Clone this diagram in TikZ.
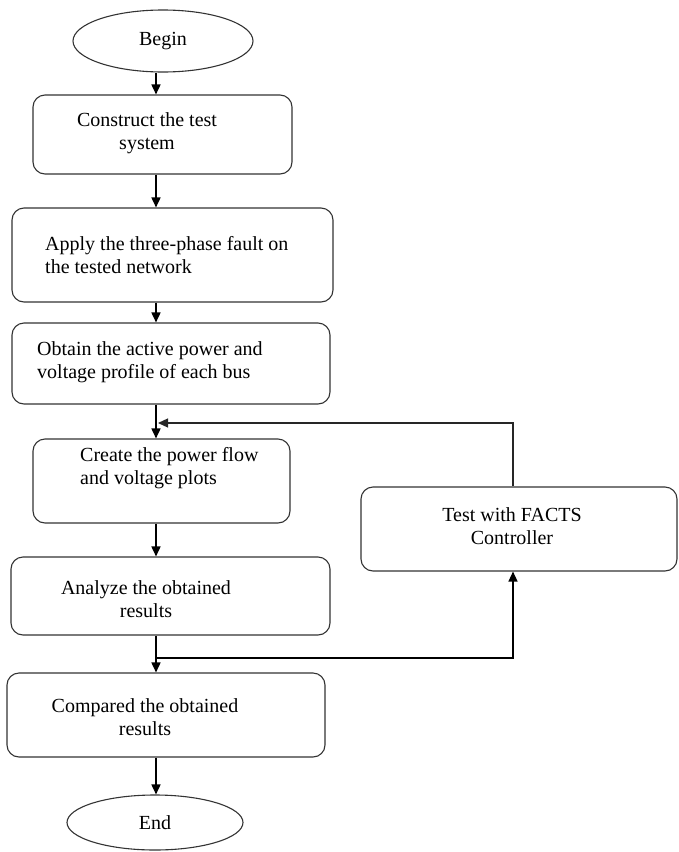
\documentclass[tikz,border=0pt]{standalone}
\usepackage{fontspec}
\setmainfont{Liberation Serif}
\usetikzlibrary{arrows.meta,shapes.geometric}

\tikzset{
  stepbox/.style={draw=black!80, line width=1.1pt, rounded corners=12pt, fill=white, inner sep=0pt},
  term/.style={ellipse, draw=black!80, line width=1.1pt, inner sep=0pt, font=\fontsize{20}{23}\selectfont},
  label/.style={inner sep=0pt, font=\fontsize{20}{23}\selectfont},
  flow/.style={draw=black, line width=1.6pt, -{Triangle[length=10pt,width=9pt]}},
  back/.style={draw=black!85, line width=1.2pt, -{Triangle[length=10pt,width=9pt]}},
  plain/.style={draw=black, line width=1.4pt}
}

\begin{document}
\begin{tikzpicture}[x=1pt,y=-1pt]
  \useasboundingbox (0,0) rectangle (679,852);

  % main spine of the flow
  \coordinate (sp) at (156,0);

  % terminals
  \node[term, minimum width=180pt, minimum height=62pt] (begin) at (163,41) {Begin};
  \node[term, minimum width=176pt, minimum height=55pt] (end) at (155,822.5) {End};

  % process boxes
  \node[stepbox, minimum width=259pt, minimum height=79pt] (b1) at (162.5,134.5) {};
  \node[stepbox, minimum width=321pt, minimum height=94pt] (b2) at (172.5,255) {};
  \node[stepbox, minimum width=318pt, minimum height=81pt] (b3) at (171,363.5) {};
  \node[stepbox, minimum width=257pt, minimum height=84pt] (b4) at (161.5,481) {};
  \node[stepbox, minimum width=319pt, minimum height=78pt] (b5) at (170.5,596) {};
  \node[stepbox, minimum width=318pt, minimum height=84pt] (b6) at (166,715) {};
  \node[stepbox, minimum width=316pt, minimum height=84pt] (facts) at (519,529) {};

  % box texts
  \node[label, align=center] (t1) at (147,133.5) {Construct the test\\system};
  \node[label, align=left, anchor=west] (t2) at (45,255) {Apply the three-phase fault on\\the tested network};
  \node[label, align=left, anchor=west] (t3) at (37,362) {Obtain the active power and\\voltage profile of each bus};
  \node[label, align=left, anchor=west] (t4) at (80,468) {Create the power flow\\and voltage plots};
  \node[label, align=center] (t5) at (146,599) {Analyze the obtained\\results};
  \node[label, align=center] (t6) at (145,717) {Compared the obtained\\results};
  \node[label, align=center] (t7) at (512,526.5) {Test with FACTS\\Controller};

  % branch points
  \coordinate (fx) at (513,0);
  \coordinate (br) at (157,658);
  \coordinate (fb) at (513,423);

  % downward flow
  \draw[flow] (begin.south -| sp) -- (b1.north -| sp);
  \draw[flow] (b1.south -| sp) -- (b2.north -| sp);
  \draw[flow] (b2.south -| sp) -- (b3.north -| sp);
  \draw[flow] (b3.south -| sp) -- (b4.north -| sp);
  \draw[flow] (b4.south -| sp) -- (b5.north -| sp);
  \draw[flow] (b5.south -| sp) -- (b6.north -| sp);
  \draw[flow] (b6.south -| sp) -- (end.north -| sp);

  % branch to the FACTS test
  \draw[plain, -{Triangle[length=10pt,width=9pt]}] (br) -- (br -| fx) -- (facts.south -| fx);

  % feedback from the FACTS test
  \draw[back] (facts.north -| fx) -- (fb) -- ([xshift=2pt]fb -| sp);
\end{tikzpicture}
\end{document}
